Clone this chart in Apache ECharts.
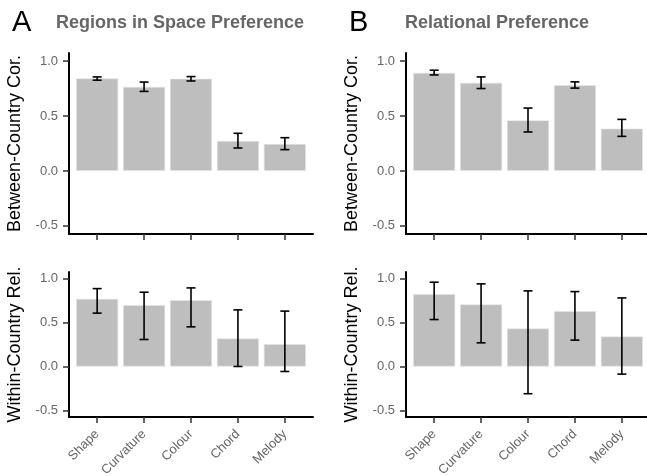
<!DOCTYPE html>
<html><head><meta charset="utf-8">
<script src="https://cdn.jsdelivr.net/npm/echarts@6/dist/echarts.min.js"></script>
<style>html,body{margin:0;padding:0;background:#fff}#c{width:647px;height:476px}</style>
</head><body><div id="c"></div>
<script>
var categories = ['Shape','Curvature','Colour','Chord','Melody'];
var positions = [1,2,3,4,5];
var yTicks = [-0.5, 0, 0.5, 1.0];

var A_between    = [0.843, 0.766, 0.840, 0.273, 0.245];
var A_between_lo = [0.827, 0.725, 0.820, 0.209, 0.194];
var A_between_hi = [0.857, 0.810, 0.860, 0.343, 0.303];

var A_within     = [0.769, 0.698, 0.754, 0.318, 0.254];
var A_within_lo  = [0.607, 0.307, 0.451, 0.000, -0.057];
var A_within_hi  = [0.886, 0.845, 0.894, 0.644, 0.630];

var B_between    = [0.894, 0.803, 0.461, 0.782, 0.385];
var B_between_lo = [0.875, 0.751, 0.355, 0.755, 0.315];
var B_between_hi = [0.918, 0.857, 0.573, 0.812, 0.470];

var B_within     = [0.823, 0.705, 0.432, 0.630, 0.341];
var B_within_lo  = [0.534, 0.269, -0.310, 0.300, -0.087];
var B_within_hi  = [0.959, 0.940, 0.860, 0.852, 0.780];

var FONT = 'Liberation Sans, Arial, sans-serif';
var grids = [
  {left:69, top:53, width:244, height:181, outerBoundsMode:'none', containLabel:false},
  {left:69, top:272, width:244, height:145, outerBoundsMode:'none', containLabel:false},
  {left:406, top:53, width:244, height:181, outerBoundsMode:'none', containLabel:false},
  {left:406, top:272, width:244, height:145, outerBoundsMode:'none', containLabel:false}
];
var yNames = ['Between-Country Cor.','Within-Country Rel.','Between-Country Cor.','Within-Country Rel.'];
var showX = [false,true,false,true];
var panels = [
  [A_between, A_between_lo, A_between_hi],
  [A_within, A_within_lo, A_within_hi],
  [B_between, B_between_lo, B_between_hi],
  [B_within, B_within_lo, B_within_hi]
];

var xAxes = [], yAxes = [], series = [];
grids.forEach(function(g, i){
  xAxes.push({
    type:'value', gridIndex:i, min:0.4, max:5.6,
    splitLine:{show:false},
    axisLine:{show:true, onZero:false, lineStyle:{color:'#000', width:2}},
    axisTick:{show:true, customValues:positions, length:6, lineStyle:{color:'#333', width:1.5}},
    axisLabel:{show:showX[i], customValues:positions, rotate:45, margin:15,
      color:'#666', fontSize:13, fontFamily:FONT,
      formatter:function(v){ return categories[Math.round(v)-1] || ''; }}
  });
  yAxes.push({
    type:'value', gridIndex:i, min:-0.575, max:1.075,
    splitLine:{show:false},
    axisLine:{show:true, onZero:false, lineStyle:{color:'#000', width:2}},
    axisTick:{show:true, customValues:yTicks, length:6, lineStyle:{color:'#333', width:1.5}},
    axisLabel:{customValues:yTicks, margin:11, color:'#666', fontSize:13, fontFamily:FONT,
      formatter:function(v){ return v.toFixed(1); }},
    name:yNames[i], nameLocation:'middle', nameRotate:90, nameGap:45,
    nameTextStyle:{color:'#000', fontSize:18, fontFamily:FONT}
  });
  var p = panels[i];
  series.push({
    type:'bar', xAxisIndex:i, yAxisIndex:i, barWidth:42, z:2,
    itemStyle:{color:'#bebebe', borderColor:'#e6e6e6', borderWidth:0.6},
    data: positions.map(function(x, k){ return [x, p[0][k]]; }),
    silent:true, animation:false
  });
  series.push({
    type:'custom', xAxisIndex:i, yAxisIndex:i, silent:true, animation:false, z:5,
    data: positions.map(function(x, k){ return [x, p[1][k], p[2][k]]; }),
    renderItem:function(params, api){
      var x = api.value(0), lo = api.value(1), hi = api.value(2);
      var a = api.coord([x, hi]), b = api.coord([x, lo]);
      var hw = 4.5;
      var st = {stroke:'#000', lineWidth:1.6};
      return {type:'group', children:[
        {type:'line', shape:{x1:a[0], y1:a[1], x2:b[0], y2:b[1]}, style:st},
        {type:'line', shape:{x1:a[0]-hw, y1:a[1], x2:a[0]+hw, y2:a[1]}, style:st},
        {type:'line', shape:{x1:b[0]-hw, y1:b[1], x2:b[0]+hw, y2:b[1]}, style:st}
      ]};
    }
  });
});

var chart = echarts.init(document.getElementById('c'), null, {renderer:'canvas'});
chart.setOption({
  backgroundColor:'#fff',
  animation:false,
  title:[
    {text:'A', left:7, top:3, textStyle:{fontSize:29, fontWeight:'normal', color:'#000', fontFamily:FONT}},
    {text:'Regions in Space Preference', left:51, top:9, textStyle:{fontSize:18, fontWeight:'bold', color:'#666', fontFamily:FONT}},
    {text:'B', left:344, top:3, textStyle:{fontSize:29, fontWeight:'normal', color:'#000', fontFamily:FONT}},
    {text:'Relational Preference', left:400, top:9, textStyle:{fontSize:18, fontWeight:'bold', color:'#666', fontFamily:FONT}}
  ],
  grid:grids,
  xAxis:xAxes,
  yAxis:yAxes,
  series:series
});
</script></body></html>
